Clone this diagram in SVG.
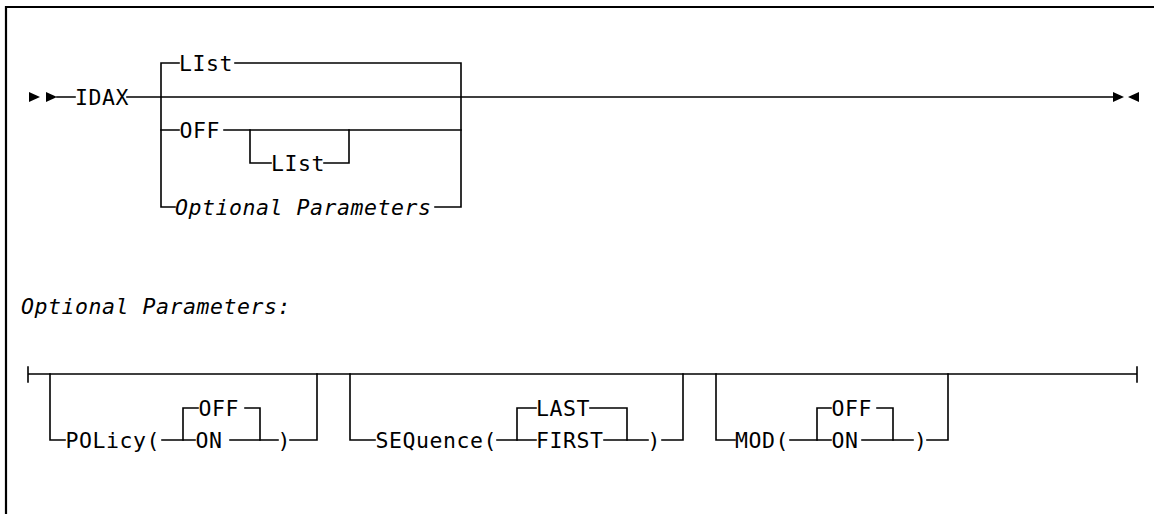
<svg xmlns="http://www.w3.org/2000/svg" xmlns:xlink="http://www.w3.org/1999/xlink" width="1154" height="514" viewBox="0 0 1154 514">
<defs>
<style>
.ln{fill:none;stroke:#000;stroke-width:1.6;stroke-linecap:square}
.fr{fill:none;stroke:#000;stroke-width:2.2}
.t{font-family:"DejaVu Sans Mono","Liberation Mono",monospace;font-size:21.5px;letter-spacing:0.56px;fill:#000}
.i{font-style:italic}
.ar{fill:#000}
</style>
<path id="triR" d="M0,-5 L11,0 L0,5 Z"/>
<path id="triL" d="M0,-5 L-11,0 L0,5 Z"/>
</defs>
<rect width="1154" height="514" fill="#fff"/>
<path class="fr" d="M1154,7 H6 V514"/>

<g id="connectors">
<use href="#triR" class="ar" x="29" y="97"/>
<use href="#triR" class="ar" x="46" y="97"/>
<path class="ln" d="M57,97 H75 M127,97 H1113"/>
<use href="#triR" class="ar" x="1113" y="97"/>
<use href="#triL" class="ar" x="1139" y="97"/>
<path class="ln" d="M179,63 H161 V207 H175 M235,63 H461 V207 H435"/>
<path class="ln" d="M161,130 H179 M224,130 H461"/>
<path class="ln" d="M250,130 V163 H271 M324,163 H349 V130"/>
<path class="ln" d="M28,367 V382 M28,374 H1137 M1137,367 V382"/>
<path class="ln" d="M50,374 V440 H65 M162,440 H195 M230,440 H278 M290,440 H317 V374"/>
<path class="ln" d="M183,440 V408 H198 M245,408 H260 V440"/>
<path class="ln" d="M350,374 V440 H375 M497,440 H536 M604,440 H648 M662,440 H683 V374"/>
<path class="ln" d="M517,440 V408 H536 M590,408 H627 V440"/>
<path class="ln" d="M716,374 V440 H735 M790,440 H831 M862,440 H913 M927,440 H948 V374"/>
<path class="ln" d="M817,440 V408 H831 M877,408 H893 V440"/>
</g>

<g id="node-idax"><text class="t" x="75" y="105">IDAX</text></g>
<g id="node-list-default"><text class="t" x="179" y="71">LIst</text></g>
<g id="node-off"><text class="t" x="179.5" y="138">OFF</text></g>
<g id="node-off-list"><text class="t" x="271" y="171">LIst</text></g>
<g id="node-optional-ref"><text class="t i" x="175" y="215">Optional Parameters</text></g>

<g id="label-optional"><text class="t i" x="21" y="313.5">Optional Parameters:</text></g>

<g id="node-policy"><text class="t" x="65.5" y="448">POLicy(</text></g>
<g id="node-policy-off"><text class="t" x="198.5" y="416">OFF</text></g>
<g id="node-policy-on"><text class="t" x="195.5" y="448">ON</text></g>
<g id="node-policy-close"><text class="t" x="277.5" y="448">)</text></g>

<g id="node-sequence"><text class="t" x="375.5" y="448">SEQuence(</text></g>
<g id="node-seq-last"><text class="t" x="536" y="416">LAST</text></g>
<g id="node-seq-first"><text class="t" x="536" y="448">FIRST</text></g>
<g id="node-seq-close"><text class="t" x="647.5" y="448">)</text></g>

<g id="node-mod"><text class="t" x="735" y="448">MOD(</text></g>
<g id="node-mod-off"><text class="t" x="831.5" y="416">OFF</text></g>
<g id="node-mod-on"><text class="t" x="831.5" y="448">ON</text></g>
<g id="node-mod-close"><text class="t" x="914" y="448">)</text></g>
</svg>
